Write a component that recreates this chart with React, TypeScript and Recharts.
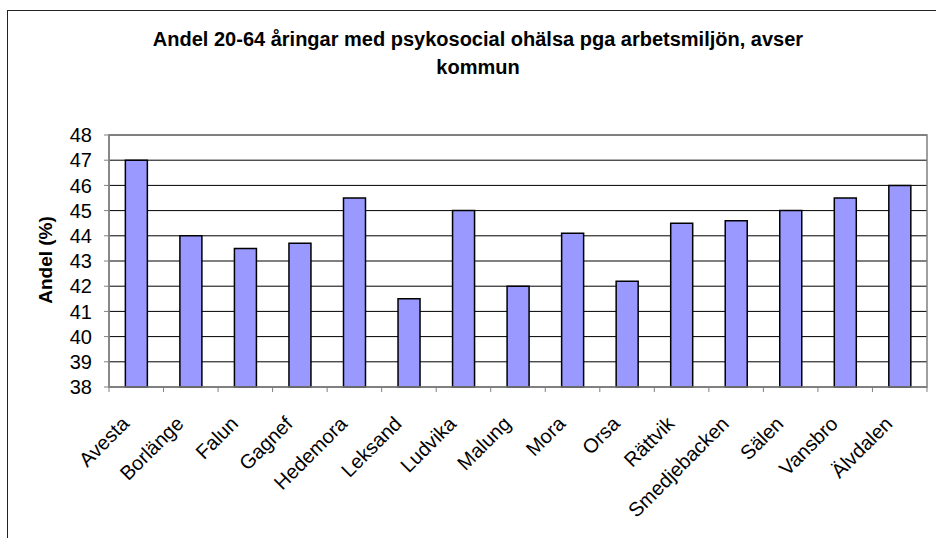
import React from 'react';
import { BarChart, Bar, XAxis, YAxis, CartesianGrid, ReferenceArea } from 'recharts';

const kommuner = [
  'Avesta', 'Borlänge', 'Falun', 'Gagnef', 'Hedemora', 'Leksand', 'Ludvika', 'Malung',
  'Mora', 'Orsa', 'Rättvik', 'Smedjebacken', 'Sälen', 'Vansbro', 'Älvdalen',
];
const andel = [47, 44, 43.5, 43.7, 45.5, 41.5, 45, 42, 44.1, 42.2, 44.5, 44.6, 45, 45.5, 46];
const yTicks = [38, 39, 40, 41, 42, 43, 44, 45, 46, 47, 48];

const data = kommuner.map((name, i) => ({ name, andel: andel[i] }));

const W = 936;
const H = 538;
const LEFT = 109;
const RIGHT = 9;
const TOP = 135;
const BOTTOM = 151;
const BAND = (W - LEFT - RIGHT) / kommuner.length;
const FONT = '"Liberation Sans", Arial, sans-serif';

function XTick(props: any) {
  const { x, y, payload, index } = props;
  const last = index === kommuner.length - 1;
  const ax = x - 6;
  const ay = y + 38;
  return (
    <g>
      <line x1={x - BAND / 2} x2={x - BAND / 2} y1={y} y2={y + 5} stroke="#808080" />
      {last && <line x1={x + BAND / 2} x2={x + BAND / 2} y1={y} y2={y + 5} stroke="#808080" />}
      <text
        x={ax}
        y={ay}
        textAnchor="end"
        transform={`rotate(-45, ${ax}, ${ay})`}
        fontSize={20}
        fontFamily={FONT}
        fill="#000"
      >
        {payload.value}
      </text>
    </g>
  );
}

export default function App() {
  return (
    <div style={{ position: 'fixed', left: 0, top: 0, width: W, height: H, overflow: 'hidden', background: '#fff' }}>
      {/* chart frame, runs off the right and bottom edge */}
      <div style={{ position: 'absolute', left: 7, top: 10, width: 1000, height: 700, border: '1.5px solid #222' }} />
      <div
        style={{
          position: 'absolute', left: 8, top: 25, width: 940, textAlign: 'center',
          fontFamily: FONT, fontWeight: 'bold', fontSize: 20, lineHeight: '28px', color: '#000',
        }}
      >
        Andel 20-64 åringar med psykosocial ohälsa pga arbetsmiljön, avser
        <br />
        kommun
      </div>
      <div
        style={{
          position: 'absolute', left: 46, top: 260, transform: 'translate(-50%, -50%) rotate(-90deg)',
          fontFamily: FONT, fontWeight: 'bold', fontSize: 19, whiteSpace: 'nowrap', color: '#000',
        }}
      >
        Andel (%)
      </div>
      <div style={{ position: 'absolute', left: 0, top: 0 }}>
        <BarChart
          width={W}
          height={H}
          data={data}
          margin={{ top: TOP, right: RIGHT, bottom: 0, left: 0 }}
          barCategoryGap="30%"
        >
          <CartesianGrid vertical={false} stroke="#000" strokeWidth={1} />
          <ReferenceArea y1={38} y2={48} fill="none" stroke="#808080" strokeWidth={1.5} />
          <XAxis
            dataKey="name"
            interval={0}
            height={BOTTOM}
            tickLine={false}
            tickSize={0}
            tickMargin={0}
            axisLine={{ stroke: '#808080', strokeWidth: 1.5 }}
            tick={<XTick />}
          />
          <YAxis
            width={LEFT}
            domain={[38, 48]}
            ticks={yTicks}
            interval={0}
            tickSize={5}
            tickMargin={12}
            axisLine={{ stroke: '#808080', strokeWidth: 1.5 }}
            tickLine={{ stroke: '#808080' }}
            tick={{ fill: '#000', fontSize: 20, fontFamily: FONT }}
          />
          <Bar dataKey="andel" fill="#9999FF" stroke="#000" strokeWidth={1.5} isAnimationActive={false} />
        </BarChart>
      </div>
    </div>
  );
}
